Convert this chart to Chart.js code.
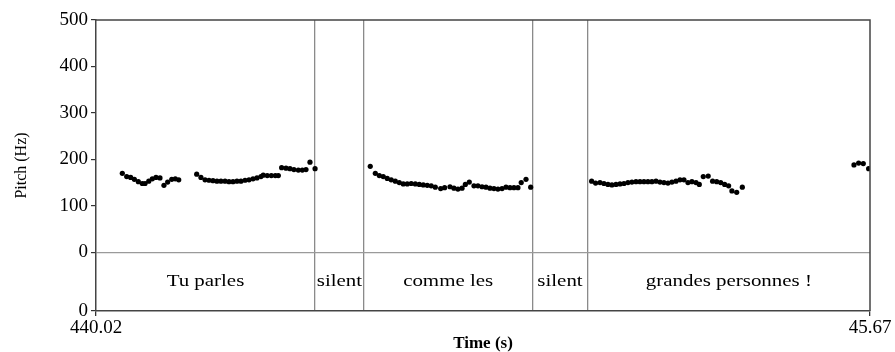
<!DOCTYPE html>
<html>
<head>
<meta charset="utf-8">
<script src="https://cdn.jsdelivr.net/npm/chart.js@4.4.1/dist/chart.umd.min.js"></script>
<style>
  html, body { margin: 0; padding: 0; background: #fff; }
  #wrap { width: 895px; height: 352px; }
</style>
</head>
<body>
<div id="wrap"><canvas id="pitch" width="895" height="352"></canvas></div>
<script>
'use strict';

// Pitch track: time (s) and pitch (Hz)
const pitchTimes = [
    440.212, 440.244, 440.273, 440.300, 440.329, 440.358, 440.378, 440.405, 440.431, 440.458,
    440.487, 440.516, 440.543, 440.573, 440.599, 440.624,
    440.755, 440.786, 440.816, 440.845, 440.874, 440.903, 440.932, 440.962, 440.991, 441.020,
    441.049, 441.078, 441.108, 441.137, 441.166, 441.195, 441.224, 441.241, 441.270, 441.300,
    441.329, 441.351,
    441.375, 441.407, 441.436, 441.465, 441.497, 441.526, 441.553, 441.582, 441.619,
    442.022, 442.059, 442.088, 442.117, 442.146, 442.175, 442.205, 442.234, 442.263, 442.292,
    442.321, 442.351, 442.380, 442.409, 442.438, 442.467, 442.497, 442.536, 442.565, 442.604,
    442.633, 442.662, 442.692, 442.716, 442.745, 442.779, 442.808, 442.838, 442.867, 442.896,
    442.925, 442.954, 442.984, 443.013, 443.042, 443.071, 443.100, 443.124, 443.159, 443.193,
    443.638, 443.667, 443.699, 443.728, 443.757, 443.786, 443.816, 443.845, 443.874, 443.903,
    443.932, 443.962, 443.991, 444.020, 444.049, 444.078, 444.108, 444.137, 444.166, 444.195,
    444.224, 444.254, 444.283, 444.312, 444.341, 444.370, 444.400, 444.424, 444.453, 444.489,
    444.521, 444.551, 444.580, 444.609, 444.638, 444.662, 444.697, 444.738,
    445.553, 445.587, 445.621, 445.660
];
const pitchValues = [
    170, 163, 161, 157, 152, 148, 148, 153, 158, 161,
    160, 144, 151, 157, 158, 156,
    168, 161, 156, 155, 154, 153, 153, 153, 152, 152,
    153, 153, 155, 156, 158, 160, 163, 166, 165, 165,
    165, 165,
    182, 181, 180, 178, 177, 177, 178, 194, 180,
    185, 170, 165, 163, 159, 156, 153, 150, 147, 147,
    148, 147, 146, 145, 144, 143, 140, 137, 139, 141,
    138, 136, 138, 146, 151, 143, 143, 141, 140, 138,
    137, 136, 137, 140, 139, 139, 139, 150, 157, 140,
    153, 149, 150, 148, 146, 145, 146, 147, 148, 150,
    151, 152, 152, 152, 152, 152, 153, 151, 150, 149,
    151, 153, 156, 156, 150, 152, 150, 146, 163, 164,
    153, 152, 150, 146, 143, 132, 129, 140,
    188, 192, 191, 180
];

// Text tier: interval boundaries (s) and their labels
const tierBounds = [440.02, 441.618, 441.976, 443.205, 443.609, 445.67];
const tierLabels = ['Tu parles', 'silent', 'comme les', 'silent', 'grandes personnes !'];

// Axis ticks
const yTicks = [0, 100, 200, 300, 400, 500];
const tierFloor = -126.5;          // bottom of the text tier, labelled "0" again
const xTickLabels = ['440.02', '45.67'];

const serif = '"Liberation Serif", "Times New Roman", serif';

// draws the top and right edges of the plot frame
const framePlugin = {
    id: 'frame',
    afterDraw(chart) {
        const { ctx, chartArea: a } = chart;
        ctx.save();
        ctx.strokeStyle = '#444';
        ctx.lineWidth = 1.5;
        ctx.beginPath();
        ctx.moveTo(a.left, a.top);
        ctx.lineTo(a.right, a.top);
        ctx.lineTo(a.right, a.bottom);
        ctx.stroke();
        ctx.restore();
    }
};

// writes each tier label in the middle of its interval
const tierTextPlugin = {
    id: 'tierText',
    afterDatasetsDraw(chart) {
        const { ctx, scales: { x, y } } = chart;
        const yMid = y.getPixelForValue(tierFloor / 2);
        ctx.save();
        ctx.fillStyle = '#000';
        ctx.font = '17px ' + serif;
        ctx.textAlign = 'center';
        ctx.textBaseline = 'middle';
        tierLabels.forEach((label, i) => {
            const xMid = (x.getPixelForValue(tierBounds[i]) + x.getPixelForValue(tierBounds[i + 1])) / 2;
            ctx.save();
            ctx.translate(xMid, yMid);
            ctx.scale(1.23, 1);
            ctx.fillText(label, 0, 0);
            ctx.restore();
        });
        ctx.restore();
    }
};

const points = pitchTimes.map((t, i) => ({ x: t, y: pitchValues[i] }));
const lastBound = tierBounds.length - 1;

new Chart(document.getElementById('pitch').getContext('2d'), {
    type: 'scatter',
    data: {
        datasets: [{
            data: points,
            pointRadius: 2.6,
            pointBackgroundColor: '#000',
            pointBorderWidth: 0,
            showLine: false
        }]
    },
    options: {
        responsive: false,
        animation: false,
        events: [],
        layout: { padding: { top: 20, right: 25, left: 0, bottom: 0 } },
        plugins: {
            legend: { display: false },
            tooltip: { enabled: false }
        },
        scales: {
            x: {
                type: 'linear',
                min: tierBounds[0],
                max: tierBounds[lastBound],
                afterBuildTicks: s => { s.ticks = tierBounds.map(v => ({ value: v })); },
                afterFit: s => { s.height = 41; },
                ticks: {
                    autoSkip: false,
                    maxRotation: 0,
                    padding: 1,
                    color: '#000',
                    font: { family: serif, size: 19 },
                    callback: (v, i, ticks) => i === 0 ? xTickLabels[0] : (i === ticks.length - 1 ? xTickLabels[1] : '')
                },
                grid: {
                    color: c => (c.index > 0 && c.index < lastBound) ? '#8a8a8a' : 'transparent',
                    tickColor: c => (c.index === 0 || c.index === lastBound) ? '#333' : 'transparent',
                    tickLength: 5,
                    lineWidth: 1.3
                },
                border: { color: '#444', width: 1.5 },
                title: {
                    display: true,
                    text: 'Time (s)',
                    color: '#000',
                    font: { family: serif, size: 17, weight: 'bold', lineHeight: 1 },
                    padding: { top: 0, bottom: 0 }
                }
            },
            y: {
                min: tierFloor,
                max: 500,
                afterBuildTicks: s => { s.ticks = [tierFloor, ...yTicks].map(v => ({ value: v })); },
                afterFit: s => { s.width = 96; },
                ticks: {
                    padding: 3,
                    color: '#000',
                    font: { family: serif, size: 19 },
                    callback: v => v === tierFloor ? '0' : String(v)
                },
                grid: {
                    color: c => (c.tick && c.tick.value === 0) ? '#9a9a9a' : 'transparent',
                    tickColor: '#333',
                    tickLength: 5,
                    lineWidth: 1.2
                },
                border: { color: '#444', width: 1.5 },
                title: {
                    display: true,
                    text: 'Pitch (Hz)',
                    color: '#000',
                    font: { family: serif, size: 16 },
                    padding: { top: 12, bottom: 0 }
                }
            }
        }
    },
    plugins: [framePlugin, tierTextPlugin]
});
</script>
</body>
</html>
